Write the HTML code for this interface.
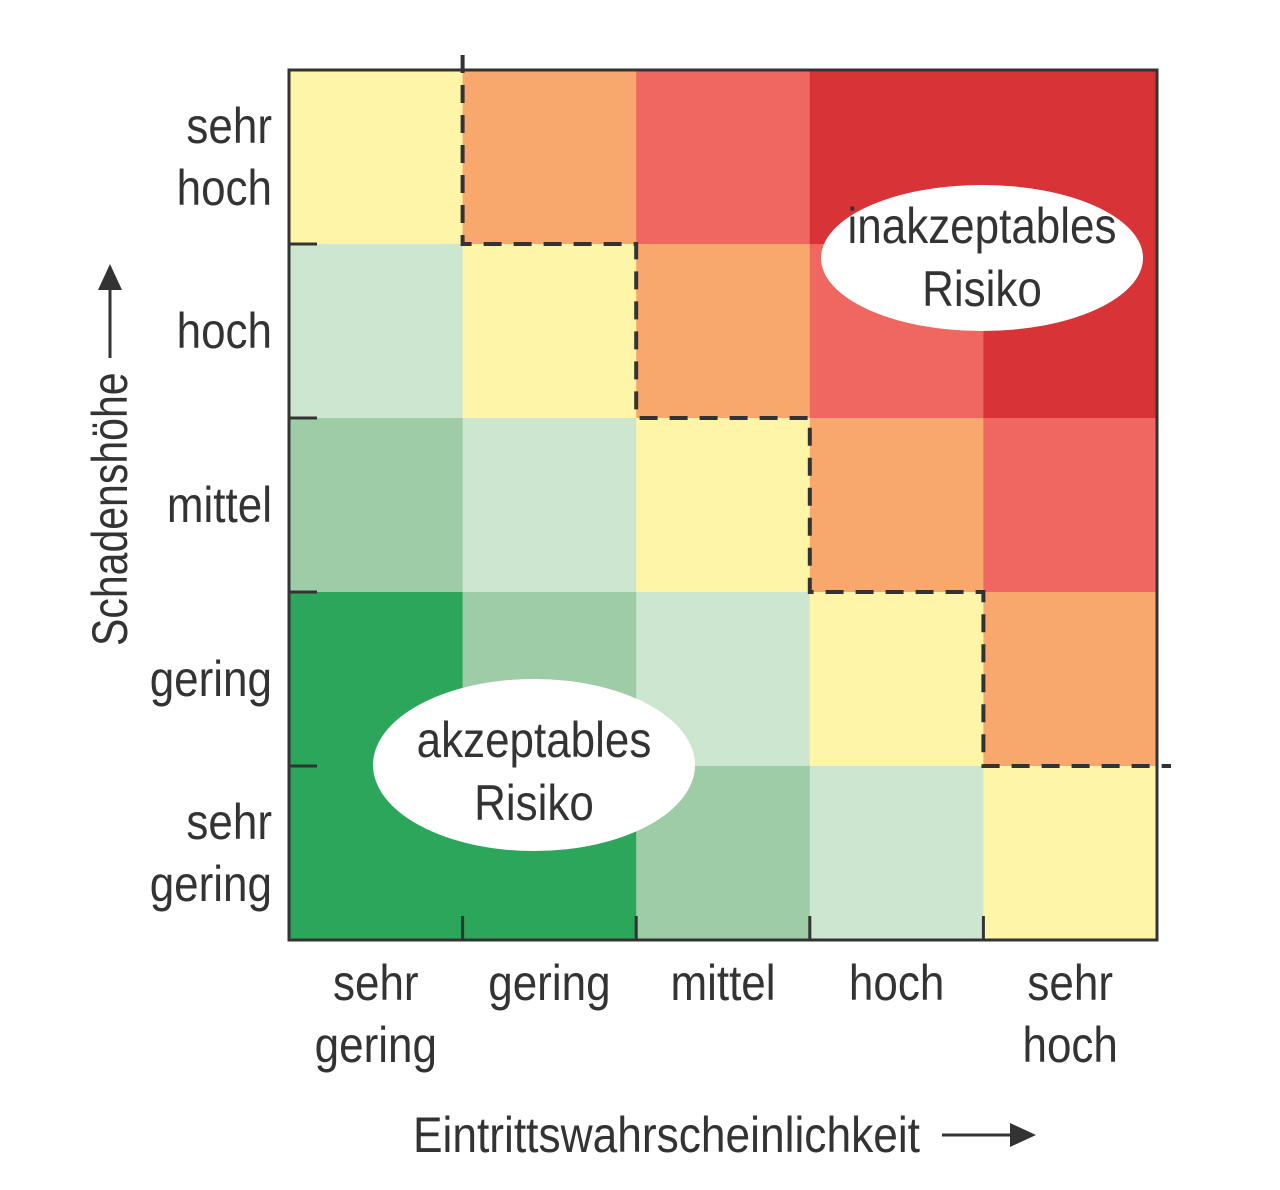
<!DOCTYPE html>
<html><head><meta charset="utf-8">
<style>
html,body{margin:0;padding:0;background:#fff;}
svg{display:block;}
text{font-family:"Liberation Sans Narrow","Liberation Sans",sans-serif;fill:#333;}
</style></head>
<body>
<svg id="chart" width="1280" height="1190" viewBox="0 0 1280 1190" xmlns="http://www.w3.org/2000/svg">
<g id="cells"></g>
<g id="lines"></g>
<g id="labels"></g>
<ellipse cx="982" cy="258" rx="161" ry="73" fill="#fff"/>
<text x="982" y="243" font-size="50" text-anchor="middle" transform="translate(982 0) scale(0.88 1) translate(-982 0)">inakzeptables</text>
<text x="982" y="306" font-size="50" text-anchor="middle" transform="translate(982 0) scale(0.88 1) translate(-982 0)">Risiko</text>
<ellipse cx="534" cy="765" rx="161" ry="86" fill="#fff"/>
<text x="534" y="757" font-size="50" text-anchor="middle" transform="translate(534 0) scale(0.88 1) translate(-534 0)">akzeptables</text>
<text x="534" y="820" font-size="50" text-anchor="middle" transform="translate(534 0) scale(0.88 1) translate(-534 0)">Risiko</text>
<text x="413" y="1152" font-size="50" transform="translate(413 0) scale(0.886 1) translate(-413 0)">Eintrittswahrscheinlichkeit</text>
<g>
<line x1="942" y1="1135" x2="1015" y2="1135" stroke="#333" stroke-width="3"/>
<polygon points="1036,1135 1010,1123 1010,1147" fill="#333"/>
</g>
<text x="0" y="0" font-size="50" transform="translate(127 646) rotate(-90) scale(0.82 1)">Schadenshöhe</text>
<g>
<line x1="110" y1="358" x2="110" y2="285" stroke="#333" stroke-width="3"/>
<polygon points="110,264 98,290 122,290" fill="#333"/>
</g>
</svg>
<script>
const probCategories = [["sehr","gering"],["gering"],["mittel"],["hoch"],["sehr","hoch"]];
const severityCategories = [["sehr","gering"],["gering"],["mittel"],["hoch"],["sehr","hoch"]];
// risk level per cell: rows = severity from top (sehr hoch) to bottom (sehr gering), cols = probability
const riskMatrix = [
  [4,5,6,7,7],
  [3,4,5,6,7],
  [2,3,4,5,6],
  [1,2,3,4,5],
  [1,1,2,3,4]
];
const levelColors = ["#2ba65a","#2ba65a","#9ecca6","#cde6d0","#fef5a8","#f8a86c","#ef6760","#d83438"];
const acceptThreshold = 4;

const X0=289, X1=1157, Y0=70, Y1=940;
const nC=probCategories.length, nR=severityCategories.length;
const cw=(X1-X0)/nC, ch=(Y1-Y0)/nR;
const xPos=i=>X0+i*cw, yPos=j=>Y0+j*ch;
const NS="http://www.w3.org/2000/svg";
function mk(tag,attrs,parent){const e=document.createElementNS(NS,tag);for(const k in attrs)e.setAttribute(k,attrs[k]);parent.appendChild(e);return e;}
const cells=document.getElementById('cells'), lines=document.getElementById('lines'), labels=document.getElementById('labels');
riskMatrix.forEach((row,r)=>row.forEach((v,c)=>{
  const e=mk('rect',{x:xPos(c),y:yPos(r),width:cw+0.5,height:ch+0.5,fill:levelColors[v]},cells);
  
  
}));
const b=mk('rect',{x:X0,y:Y0,width:X1-X0,height:Y1-Y0,fill:'none',stroke:'#333','stroke-width':3},lines);


for(let j=1;j<nR;j++){const t=mk('line',{x1:X0,y1:yPos(j),x2:X0+28,y2:yPos(j),stroke:'#333','stroke-width':3},lines);
  
  }
for(let i=1;i<nC;i++){const t=mk('line',{x1:xPos(i),y1:Y1,x2:xPos(i),y2:Y1-24,stroke:'#333','stroke-width':3},lines);
  
  }
let pts=[];
riskMatrix.forEach(row=>{let c=row.findIndex(v=>v>acceptThreshold);if(c<0)c=nC;pts.push(c);});
let d='M'+xPos(pts[0])+' '+(Y0-15);
for(let r=0;r<nR;r++){
  if(pts[r]>=nC) break;
  d+=' L'+xPos(pts[r])+' '+yPos(r+1);
  if(r===nR-1 || pts[r+1]>=nC){ d+=' L'+(X1+14)+' '+yPos(r+1); break; }
  d+=' L'+xPos(pts[r+1])+' '+yPos(r+1);
}
const p=mk('path',{d:d,fill:'none',stroke:'#333','stroke-width':4,'stroke-dasharray':'18 12'},lines);


function label(x,y,txt,anchor,name){const t=mk('text',{x:x,y:y,'font-size':50,'text-anchor':anchor,transform:'translate('+x+' 0) scale(0.88 1) translate('+(-x)+' 0)'},labels);t.textContent=txt;
  
  }
probCategories.forEach((l2,i)=>{
  const cx=xPos(i)+cw/2;
  l2.forEach((s,k)=>label(cx,1000+k*62,s,'middle','x-tick-label'));
});
severityCategories.forEach((l2,j)=>{
  const r=nR-1-j; const cy=yPos(r)+ch/2;
  const n=l2.length; const start=cy+17-(n-1)*31;
  l2.forEach((s,k)=>label(272,start+k*62,s,'end','y-tick-label'));
});
</script>
</body></html>
